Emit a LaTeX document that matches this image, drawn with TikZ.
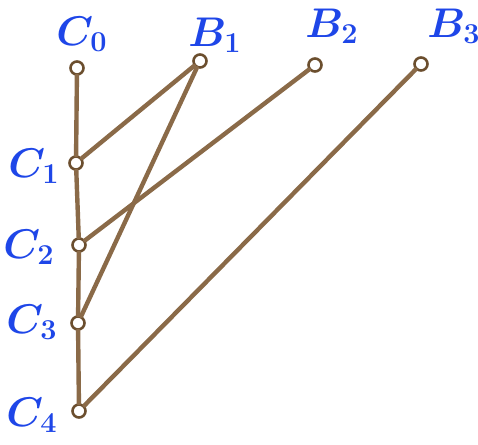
\documentclass[tikz,border=0pt]{standalone}
\usepackage{xcolor}
\usepackage{tikz}
\definecolor{rodbrown}{HTML}{8A6A48}
\definecolor{ringbrown}{HTML}{6B4E2E}
\definecolor{inkblue}{HTML}{1E46E8}
\tikzset{
  joint/.style={circle,draw=ringbrown,fill=white,line width=1.3pt,inner sep=0pt,minimum size=6.5pt},
  lbl/.style={text=inkblue,font=\fontsize{22}{24}\selectfont\boldmath},
  rod/.style={draw=rodbrown,line width=2.2pt,line cap=round}
}
\begin{document}
\begin{tikzpicture}[x=0.5pt,y=-0.5pt]
\useasboundingbox (0,0) rectangle (478,445);
\node[joint] (c0) at (77,68) {};
\node[joint] (c1) at (76,163) {};
\node[joint] (c2) at (79,245) {};
\node[joint] (c3) at (78,323) {};
\node[joint] (c4) at (79,411) {};
\node[joint] (b1) at (200,61) {};
\node[joint] (b2) at (315,65) {};
\node[joint] (b3) at (421,64) {};
\node[lbl] (lc0) at (82,34) {$C_0$};
\node[lbl] (lb1) at (215,35) {$B_1$};
\node[lbl] (lb2) at (332,26) {$B_2$};
\node[lbl] (lb3) at (454,26) {$B_3$};
\node[lbl] (lc1) at (34,166) {$C_1$};
\node[lbl] (lc2) at (29,247) {$C_2$};
\node[lbl] (lc3) at (32,322) {$C_3$};
\node[lbl] (lc4) at (32,415) {$C_4$};
\draw[rod] (c0) -- (c1) -- (c2) -- (c3) -- (c4);
\draw[rod] (c1) -- (b1);
\draw[rod] (c2) -- (b2);
\draw[rod] (c3) -- (b1);
\draw[rod] (c4) -- (b3);
\end{tikzpicture}
\end{document}
